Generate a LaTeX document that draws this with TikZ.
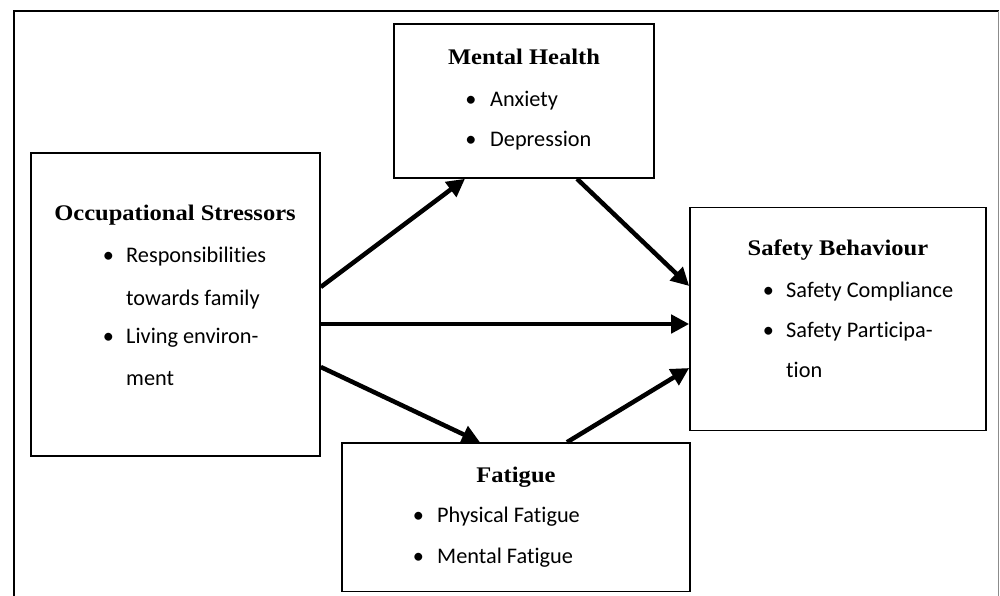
\documentclass[tikz,border=0pt]{standalone}
\usepackage{fontspec}
\newfontfamily\bodyf{Carlito}[Ligatures=NoCommon]
\newfontfamily\ttlf{Liberation Serif}[FakeStretch=1.1]
\usetikzlibrary{arrows.meta}
\begin{document}
\begin{tikzpicture}[x=1pt,y=-1pt,
 box/.style={draw, line width=1.6pt, inner sep=0pt, fill=white},
 ttl/.style={anchor=base, inner sep=0pt, font=\ttlf\fontsize{22.3}{26}\selectfont\bfseries},
 itm/.style={anchor=base west, inner sep=0pt, font=\bodyf\fontsize{22.3}{26}\selectfont},
 bul/.style={anchor=base, inner sep=0pt, font=\bodyf\fontsize{22.3}{26}\selectfont},
 arr/.style={line width=4.5pt, -{Triangle[length=18pt,width=18pt]}}]
\useasboundingbox (0,0) rectangle (1000,596);
% outer frame (open at the bottom)
\draw[line width=2pt] (14,600) -- (14,11) -- (998.5,11);
\draw[line width=1pt, black!45] (998.5,11) -- (998.5,600);
% boxes
\node[box, minimum width=260pt, minimum height=154pt] (mh) at (524,101) {};
\node[box, minimum width=289pt, minimum height=303pt] (os) at (175.5,304.5) {};
\node[box, minimum width=296pt, minimum height=223pt] (sb) at (838,319) {};
\node[box, minimum width=348pt, minimum height=148.5pt] (fat) at (516,517.25) {};
% texts: Mental Health
\node[ttl] (mht) at (524,65) {Mental Health};
\node[bul] (mhb1) at (471,107) {•};
\node[itm] (mhi1) at (490,107) {Anxiety};
\node[bul] (mhb2) at (471,147) {•};
\node[itm] (mhi2) at (490,147) {Depression};
% Occupational Stressors
\node[ttl] (ost) at (175,220) {Occupational Stressors};
\node[bul] (osb1) at (108.5,262) {•};
\node[itm] (osi1) at (126,262) {Responsibilities};
\node[itm] (osi1b) at (126,305) {towards family};
\node[bul] (osb2) at (108.5,343) {•};
\node[itm] (osi2) at (126,343) {Living environ-};
\node[itm] (osi2b) at (126,385) {ment};
% Safety Behaviour
\node[ttl] (sbt) at (838,255) {Safety Behaviour};
\node[bul] (sbb1) at (768.5,297) {•};
\node[itm] (sbi1) at (786,297) {Safety Compliance};
\node[bul] (sbb2) at (768.5,337) {•};
\node[itm] (sbi2) at (786,337) {Safety Participa-};
\node[itm] (sbi2b) at (786,377) {tion};
% Fatigue
\node[ttl] (ft) at (516,482.5) {Fatigue};
\node[bul] (fb1) at (418.5,522) {•};
\node[itm] (fi1) at (437,522) {Physical Fatigue};
\node[bul] (fb2) at (418.5,563) {•};
\node[itm] (fi2) at (437,563) {Mental Fatigue};
% arrows
\draw[arr] ([yshift=17.5pt]os.east) -- ([xshift=-59pt]mh.south);
\draw[arr] ([xshift=53pt]mh.south) -- ([yshift=33pt]sb.west);
\draw[arr] ([yshift=-19.5pt]os.east) -- ([yshift=-5pt]sb.west);
\draw[arr] ([yshift=-62.5pt]os.east) -- ([xshift=-36pt]fat.north);
\draw[arr] ([xshift=51pt]fat.north) -- ([yshift=-49pt]sb.west);
\end{tikzpicture}
\end{document}
